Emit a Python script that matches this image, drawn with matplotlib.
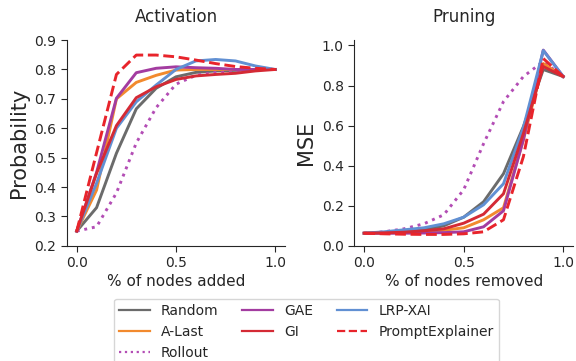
import matplotlib
matplotlib.use("Agg")
import matplotlib.pyplot as plt
from matplotlib.lines import Line2D

x = [0.0, 0.1, 0.2, 0.3, 0.4, 0.5, 0.6, 0.7, 0.8, 0.9, 1.0]

methods = ["Random", "A-Last", "Rollout", "GAE", "GI", "LRP-XAI", "PromptExplainer"]

act_random = [0.25, 0.33, 0.515, 0.666, 0.736, 0.775, 0.79, 0.795, 0.797, 0.80, 0.80]
act_alast = [0.25, 0.39, 0.70, 0.756, 0.78, 0.798, 0.80, 0.80, 0.80, 0.80, 0.80]
act_rollout = [0.25, 0.265, 0.38, 0.55, 0.67, 0.75, 0.78, 0.79, 0.795, 0.80, 0.80]
act_gae = [0.25, 0.45, 0.702, 0.789, 0.804, 0.809, 0.806, 0.804, 0.80, 0.80, 0.80]
act_gi = [0.25, 0.447, 0.609, 0.704, 0.741, 0.766, 0.778, 0.783, 0.787, 0.795, 0.80]
act_lrp = [0.25, 0.413, 0.60, 0.69, 0.747, 0.80, 0.829, 0.834, 0.829, 0.812, 0.80]
act_prompt = [0.25, 0.517, 0.783, 0.849, 0.849, 0.843, 0.832, 0.82, 0.81, 0.804, 0.80]

prn_random = [0.063, 0.065, 0.07, 0.08, 0.10, 0.143, 0.22, 0.36, 0.595, 0.88, 0.845]
prn_alast = [0.063, 0.064, 0.066, 0.07, 0.078, 0.09, 0.13, 0.19, 0.53, 0.91, 0.845]
prn_rollout = [0.063, 0.07, 0.085, 0.11, 0.155, 0.28, 0.51, 0.72, 0.845, 0.92, 0.845]
prn_gae = [0.063, 0.063, 0.063, 0.064, 0.066, 0.07, 0.095, 0.175, 0.53, 0.977, 0.845]
prn_gi = [0.063, 0.065, 0.068, 0.075, 0.085, 0.113, 0.158, 0.26, 0.56, 0.895, 0.845]
prn_lrp = [0.063, 0.07, 0.08, 0.09, 0.11, 0.143, 0.205, 0.31, 0.59, 0.975, 0.845]
prn_prompt = [0.063, 0.06, 0.058, 0.057, 0.057, 0.06, 0.07, 0.13, 0.445, 0.935, 0.845]

colors = {
    "Random": "#6b6b6b",
    "A-Last": "#f28a2e",
    "Rollout": "#b34db5",
    "GAE": "#a33ca0",
    "GI": "#d42a35",
    "LRP-XAI": "#6190d3",
    "PromptExplainer": "#e8242b",
}
styles = {
    "Random": "-", "A-Last": "-", "Rollout": ":", "GAE": "-",
    "GI": "-", "LRP-XAI": "-", "PromptExplainer": "--",
}

act = dict(zip(methods, [act_random, act_alast, act_rollout, act_gae, act_gi, act_lrp, act_prompt]))
prn = dict(zip(methods, [prn_random, prn_alast, prn_rollout, prn_gae, prn_gi, prn_lrp, prn_prompt]))

txt = "#262626"
plt.rcParams.update({
    "font.family": "DejaVu Sans",
    "text.color": txt,
    "axes.labelcolor": txt,
    "xtick.color": txt,
    "ytick.color": txt,
    "axes.edgecolor": txt,
})

fig = plt.figure(figsize=(5.76, 3.61), dpi=100)
ax1 = fig.add_axes([0.116, 0.319, 0.379, 0.570])
ax2 = fig.add_axes([0.615, 0.319, 0.380, 0.570])

order = ["Random", "Rollout", "A-Last", "GAE", "LRP-XAI", "GI", "PromptExplainer"]
for m in order:
    lw = 2.1
    ax1.plot(x, act[m], color=colors[m], linestyle=styles[m], linewidth=lw)
    ax2.plot(x, prn[m], color=colors[m], linestyle=styles[m], linewidth=lw)

for ax in (ax1, ax2):
    ax.spines["top"].set_visible(False)
    ax.spines["right"].set_visible(False)
    ax.set_xlim(-0.05, 1.05)
    ax.set_xticks([0.0, 0.5, 1.0])
    ax.tick_params(labelsize=10, length=4)

ax1.set_ylim(0.2, 0.9)
ax1.set_yticks([0.2, 0.3, 0.4, 0.5, 0.6, 0.7, 0.8, 0.9])
ax2.set_ylim(0.0, 1.027)
ax2.set_yticks([0.0, 0.2, 0.4, 0.6, 0.8, 1.0])

ax1.set_title("Activation", fontsize=12, pad=13)
ax2.set_title("Pruning", fontsize=12, pad=13)
ax1.set_ylabel("Probability", fontsize=15)
ax2.set_ylabel("MSE", fontsize=15)
ax1.set_xlabel("% of nodes added", fontsize=11, labelpad=3)
ax2.set_xlabel("% of nodes removed", fontsize=11, labelpad=3)

handles = [Line2D([0], [0], color=colors[m], linestyle=styles[m], linewidth=1.6) for m in methods]
fig.legend(handles, methods, loc="lower center", bbox_to_anchor=(0.532, -0.032), ncol=3,
           fontsize=10, frameon=True, handlelength=2.2, columnspacing=1.7,
           handletextpad=0.8, labelspacing=0.5, borderpad=0.4)

fig.savefig("out.png", dpi=100)
